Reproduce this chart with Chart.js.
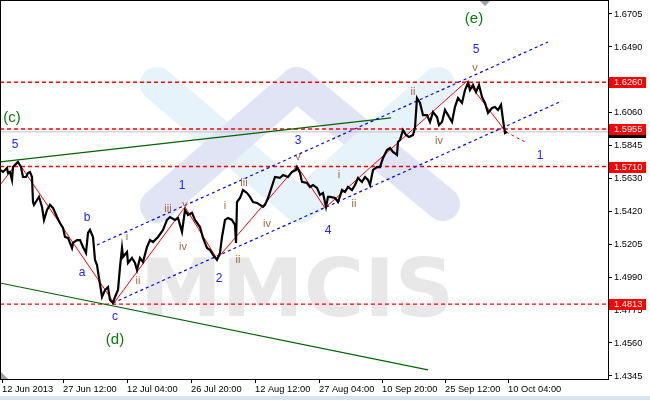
<!DOCTYPE html>
<html>
<head>
<meta charset="utf-8">
<script src="https://cdn.jsdelivr.net/npm/chart.js@4.4.1/dist/chart.umd.min.js"></script>
<style>
    html, body { margin: 0; padding: 0; background: #fff; }
    canvas { display: block; }
</style>
</head>
<body>
<canvas id="waveChart" width="650" height="400"></canvas>
<script>
// H4 bars counted from 12 Jun 2013, close
var barIndex = [0, 3, 7, 8, 10, 12, 13, 17, 18, 21, 23, 26, 28, 30, 32, 33, 34, 37, 39, 42, 44, 47, 50, 53, 57, 60, 63, 65, 68, 72, 73, 77, 80, 83, 86, 88, 90, 93, 95, 97, 99,
    102, 105, 108, 110, 113, 115, 118, 120, 122, 123, 127, 128, 132, 135, 137, 140, 143, 147, 150, 153, 158, 163, 167, 170, 175, 178, 182, 185, 188, 192, 195, 200,
    203, 207, 210, 213, 217, 220, 222, 225, 228, 232, 235, 236, 237, 240, 243, 247, 250, 253, 257, 260, 263, 265, 268, 273, 275, 280, 283, 288, 292, 296, 297, 300,
    302, 307, 310, 313, 317, 320, 323, 326, 328, 330, 335, 338, 342, 345, 348, 352, 355, 358, 362, 365, 368, 370, 373, 377, 380, 383, 387, 390, 393, 397, 398, 400,
    403, 406, 409, 413, 415, 417, 420, 423, 427, 430, 433, 437, 439, 442, 445, 448, 452, 455, 458, 462, 465, 468, 470, 473, 476, 479, 482, 485, 488, 492, 495, 498,
    501, 503, 505, 507];
var closePrice = [1.5688, 1.5675, 1.5701, 1.5668, 1.5675, 1.5623, 1.5707, 1.5734, 1.5740, 1.5707, 1.5642, 1.5642, 1.5668, 1.5675, 1.5642, 1.5479, 1.5460, 1.5492, 1.5512, 1.5447, 1.5362, 1.5427, 1.5460, 1.5440, 1.5381, 1.5342, 1.5310, 1.5251, 1.5245, 1.5179, 1.5212, 1.5231, 1.5231, 1.5186, 1.5147, 1.5277, 1.5297, 1.5251, 1.5101, 1.5068, 1.4984,
    1.4860, 1.4905, 1.4925, 1.4840, 1.4821, 1.4860, 1.4905, 1.5055, 1.5179, 1.5121, 1.5153, 1.5082, 1.5114, 1.5082, 1.5036, 1.5114, 1.5088, 1.5186, 1.5231, 1.5218, 1.5251, 1.5297, 1.5362, 1.5381, 1.5362, 1.5375, 1.5284, 1.5427, 1.5394, 1.5408, 1.5362, 1.5316,
    1.5245, 1.5179, 1.5166, 1.5134, 1.5101, 1.5147, 1.5251, 1.5362, 1.5375, 1.5362, 1.5329, 1.5212, 1.5479, 1.5505, 1.5557, 1.5538, 1.5512, 1.5479, 1.5473, 1.5460, 1.5447, 1.5460, 1.5505, 1.5603, 1.5642, 1.5636, 1.5655, 1.5642, 1.5675, 1.5688, 1.5707, 1.5668,
    1.5610, 1.5603, 1.5577, 1.5590, 1.5571, 1.5525, 1.5538, 1.5447, 1.5512, 1.5512, 1.5505, 1.5479, 1.5557, 1.5544, 1.5577, 1.5557, 1.5590, 1.5636, 1.5610, 1.5642, 1.5623, 1.5590, 1.5688, 1.5707, 1.5707, 1.5766, 1.5818, 1.5831, 1.5805, 1.5786, 1.5870, 1.5883,
    1.5949, 1.5916, 1.5903, 1.5916, 1.5962, 1.6157, 1.6125, 1.6046, 1.6046, 1.6001, 1.6066, 1.6033, 1.5981, 1.6001, 1.6079, 1.6046, 1.6001, 1.6099, 1.6157, 1.6125, 1.6209, 1.6255, 1.6209, 1.6242, 1.6196, 1.6242, 1.6164, 1.6125, 1.6060, 1.6092, 1.6099, 1.6079,
    1.6112, 1.6014, 1.5929, 1.5936];

var timeTickBars = [2, 63, 127, 191, 255, 319, 382, 445, 508];
var timeTickLabels = ['12 Jun 2013', '27 Jun 12:00', '12 Jul 04:00', '26 Jul 20:00', '12 Aug 12:00', '27 Aug 04:00', '10 Sep 20:00', '25 Sep 12:00', '10 Oct 04:00'];
var priceTicks = [1.6705, 1.6490, 1.6060, 1.5845, 1.5630, 1.5420, 1.5205, 1.4990, 1.4775, 1.4560, 1.4345];

var levelPrices = [1.6260, 1.5955, 1.5710, 1.4813];
var bidPrice = 1.5936;

// wave count zigzag
var waveBars = [0, 18, 114, 185, 217, 297, 325, 467, 506];
var wavePrices = [1.5590, 1.5740, 1.4821, 1.5447, 1.5108, 1.5714, 1.5440, 1.6268, 1.5936];
var forecastBars = [506, 527];
var forecastPrices = [1.5936, 1.5864];

// channels and trend lines
var channelTopBars = [97, 548];
var channelTopPrices = [1.5199, 1.6522];
var channelLowBars = [113, 562];
var channelLowPrices = [1.4821, 1.6138];
var trendTopBars = [0, 391];
var trendTopPrices = [1.5740, 1.6027];
var trendLowBars = [0, 428];
var trendLowPrices = [1.4951, 1.4384];

// wave labels: g = major, b = wave, r = sub-wave
var labelText = ['(c)', '5', 'b', 'a', 'c', '(d)', '1', 'iii', 'v', 'i', 'ii', 'iv', '2', 'i', 'iii', 'ii', 'iv', '3', 'v', 'i', 'ii', '4', 'ii', 'iv', '5', 'v', '(e)', '1'];
var labelBars = [12, 15, 87, 82, 115, 115, 182, 168, 185, 127, 138, 183, 219, 225, 244, 238, 267, 298, 298, 339, 354, 328, 413, 439, 476, 475, 474, 540];
var labelPrices = [1.6027, 1.5851, 1.5375, 1.5016, 1.4729, 1.4579, 1.5584, 1.5434, 1.5460, 1.5251, 1.4964, 1.5186, 1.4977, 1.5453, 1.5603, 1.5101, 1.5336, 1.5877, 1.5773, 1.5655, 1.5466, 1.5290, 1.6196, 1.5877, 1.6470, 1.6353, 1.6672, 1.5779];
var labelKind = ['g', 'b', 'b', 'b', 'b', 'g', 'b', 'r', 'r', 'r', 'r', 'r', 'b', 'r', 'r', 'r', 'r', 'b', 'r', 'r', 'r', 'b', 'r', 'r', 'b', 'r', 'g', 'b'];

var axisFont = 'Liberation Sans';

function toPoints(xs, ys) {
    return xs.map(function (x, i) { return { x: x, y: ys[i] }; });
}

function flatLine(price) {
    return [{ x: 0, y: price }, { x: 608, y: price }];
}

var labelStyle = {
    g: { font: '15px "Liberation Sans"', color: '#0b780b' },
    b: { font: '12px "Liberation Sans"', color: '#2222ff' },
    r: { font: '11px "Liberation Sans"', color: '#a8683a' }
};

var decor = {
    id: 'decor',
    beforeDraw: function (chart) {
        var ctx = chart.ctx;
        ctx.save();
        ctx.fillStyle = '#ffffff';
        ctx.fillRect(0, 0, chart.width, chart.height);
        ctx.fillStyle = '#dae3ec';
        ctx.fillRect(0, 396, chart.width, 4);
        ctx.restore();
    },
    beforeDatasetsDraw: function (chart) {
        var ctx = chart.ctx;
        var a = chart.chartArea;
        ctx.save();
        ctx.beginPath();
        ctx.rect(a.left, a.top, a.right - a.left, a.bottom - a.top);
        ctx.clip();
        ctx.lineCap = 'round';
        ctx.lineJoin = 'round';
        ctx.lineWidth = 34;
        var band = function (color, x1, y1, x2, y2) {
            ctx.strokeStyle = color;
            ctx.beginPath();
            ctx.moveTo(x1, y1);
            ctx.lineTo(x2, y2);
            ctx.stroke();
        };
        band('#e7f3fb', 157, 84, 300, 206);
        band('#e0e4f5', 157, 206, 297, 84);
        band('#e0e4f5', 297, 84, 443, 204);
        band('#e7f3fb', 300, 206, 438, 84);
        // logo text
        ctx.fillStyle = '#e8e8e8';
        ctx.font = 'bold 80px "DejaVu Sans"';
        ctx.textBaseline = 'alphabetic';
        var w = ctx.measureText('MMCIS').width;
        ctx.translate(140, 316);
        ctx.scale(314 / w, 1);
        ctx.fillText('MMCIS', 0, 0);
        ctx.restore();
    },
    afterDatasetsDraw: function (chart) {
        var ctx = chart.ctx;
        var xs = chart.scales.x;
        var ys = chart.scales.y;
        ctx.save();
        ctx.textAlign = 'center';
        ctx.textBaseline = 'middle';
        for (var i = 0; i < labelText.length; i++) {
            var st = labelStyle[labelKind[i]];
            ctx.font = st.font;
            ctx.fillStyle = st.color;
            ctx.fillText(labelText[i], xs.getPixelForValue(labelBars[i]), ys.getPixelForValue(labelPrices[i]));
        }
        ctx.restore();
    },
    afterDraw: function (chart) {
        var ctx = chart.ctx;
        var a = chart.chartArea;
        var ys = chart.scales.y;
        ctx.save();
        ctx.strokeStyle = '#000';
        ctx.lineWidth = 1;
        ctx.strokeRect(a.left + 0.5, a.top + 0.5, a.right - a.left, a.bottom - a.top);

        ctx.fillStyle = '#a0a0a0';
        ctx.beginPath();
        ctx.moveTo(480, 1); ctx.lineTo(490, 1); ctx.lineTo(485, 6);
        ctx.fill();
        ctx.beginPath();
        ctx.moveTo(1, 372); ctx.lineTo(1, 379); ctx.lineTo(8, 379);
        ctx.fill();

        ctx.font = '9.3px "' + axisFont + '"';
        ctx.textAlign = 'left';
        ctx.textBaseline = 'middle';
        var box = function (price, fill) {
            var y = Math.round(ys.getPixelForValue(price));
            ctx.fillStyle = fill;
            ctx.fillRect(a.right + 1, y - 5, 37, 11);
            ctx.fillStyle = '#fff';
            ctx.fillText(price.toFixed(4), a.right + 6, y + 0.5);
        };
        box(bidPrice, '#000');
        levelPrices.forEach(function (p) { box(p, '#ff0000'); });
        ctx.restore();
    }
};

var datasets = [
    {
        data: toPoints(barIndex, closePrice),
        borderColor: '#000', borderWidth: 2.2
    },
    {
        data: toPoints(waveBars, wavePrices),
        borderColor: '#ff0000', borderWidth: 1
    },
    {
        data: toPoints(forecastBars, forecastPrices),
        borderColor: '#ff0000', borderWidth: 1, borderDash: [3, 3]
    },
    {
        data: toPoints(channelTopBars, channelTopPrices),
        borderColor: '#0000ff', borderWidth: 1.2, borderDash: [3, 3]
    },
    {
        data: toPoints(channelLowBars, channelLowPrices),
        borderColor: '#0000ff', borderWidth: 1.2, borderDash: [3, 3]
    },
    {
        data: toPoints(trendTopBars, trendTopPrices),
        borderColor: '#006400', borderWidth: 1.2
    },
    {
        data: toPoints(trendLowBars, trendLowPrices),
        borderColor: '#006400', borderWidth: 1.2
    },
    {
        data: flatLine(bidPrice),
        borderColor: '#c0c0c0', borderWidth: 1
    }
];
levelPrices.forEach(function (p) {
    datasets.push({ data: flatLine(p), borderColor: '#ff0000', borderWidth: 1.4, borderDash: [4, 3] });
});
datasets.forEach(function (d) {
    d.pointRadius = 0;
    d.fill = false;
    d.tension = 0;
});

function noPadding(scale) {
    scale.paddingTop = 0;
    scale.paddingBottom = 0;
    scale.paddingLeft = 0;
    scale.paddingRight = 0;
}

new Chart(document.getElementById('waveChart'), {
    type: 'line',
    data: { datasets: datasets },
    options: {
        responsive: false,
        animation: false,
        devicePixelRatio: 1,
        layout: { padding: 0 },
        plugins: { legend: { display: false }, tooltip: { enabled: false } },
        scales: {
            x: {
                type: 'linear',
                position: 'bottom',
                min: 0,
                max: 608,
                border: { display: false },
                grid: { drawOnChartArea: false, drawTicks: true, tickLength: 4, color: '#000' },
                ticks: {
                    align: 'start',
                    autoSkip: false,
                    maxRotation: 0,
                    minRotation: 0,
                    padding: 1,
                    color: '#000',
                    font: { family: axisFont, size: 9.3 },
                    callback: function (v) {
                        var i = timeTickBars.indexOf(v);
                        return i >= 0 ? timeTickLabels[i] : '';
                    }
                },
                afterBuildTicks: function (scale) {
                    scale.ticks = timeTickBars.map(function (v) { return { value: v }; });
                },
                afterFit: function (scale) {
                    scale.height = 21;
                    noPadding(scale);
                }
            },
            y: {
                type: 'linear',
                position: 'right',
                min: 1.4325,
                max: 1.6796,
                border: { display: false },
                grid: { drawOnChartArea: false, drawTicks: true, tickLength: 4, color: '#000' },
                ticks: {
                    padding: 2,
                    color: '#000',
                    font: { family: axisFont, size: 9.3 },
                    callback: function (v) { return v.toFixed(4); }
                },
                afterBuildTicks: function (scale) {
                    scale.ticks = priceTicks.map(function (v) { return { value: v }; });
                },
                afterFit: function (scale) {
                    scale.width = 42;
                    noPadding(scale);
                }
            }
        }
    },
    plugins: [decor]
});
</script>
</body>
</html>
